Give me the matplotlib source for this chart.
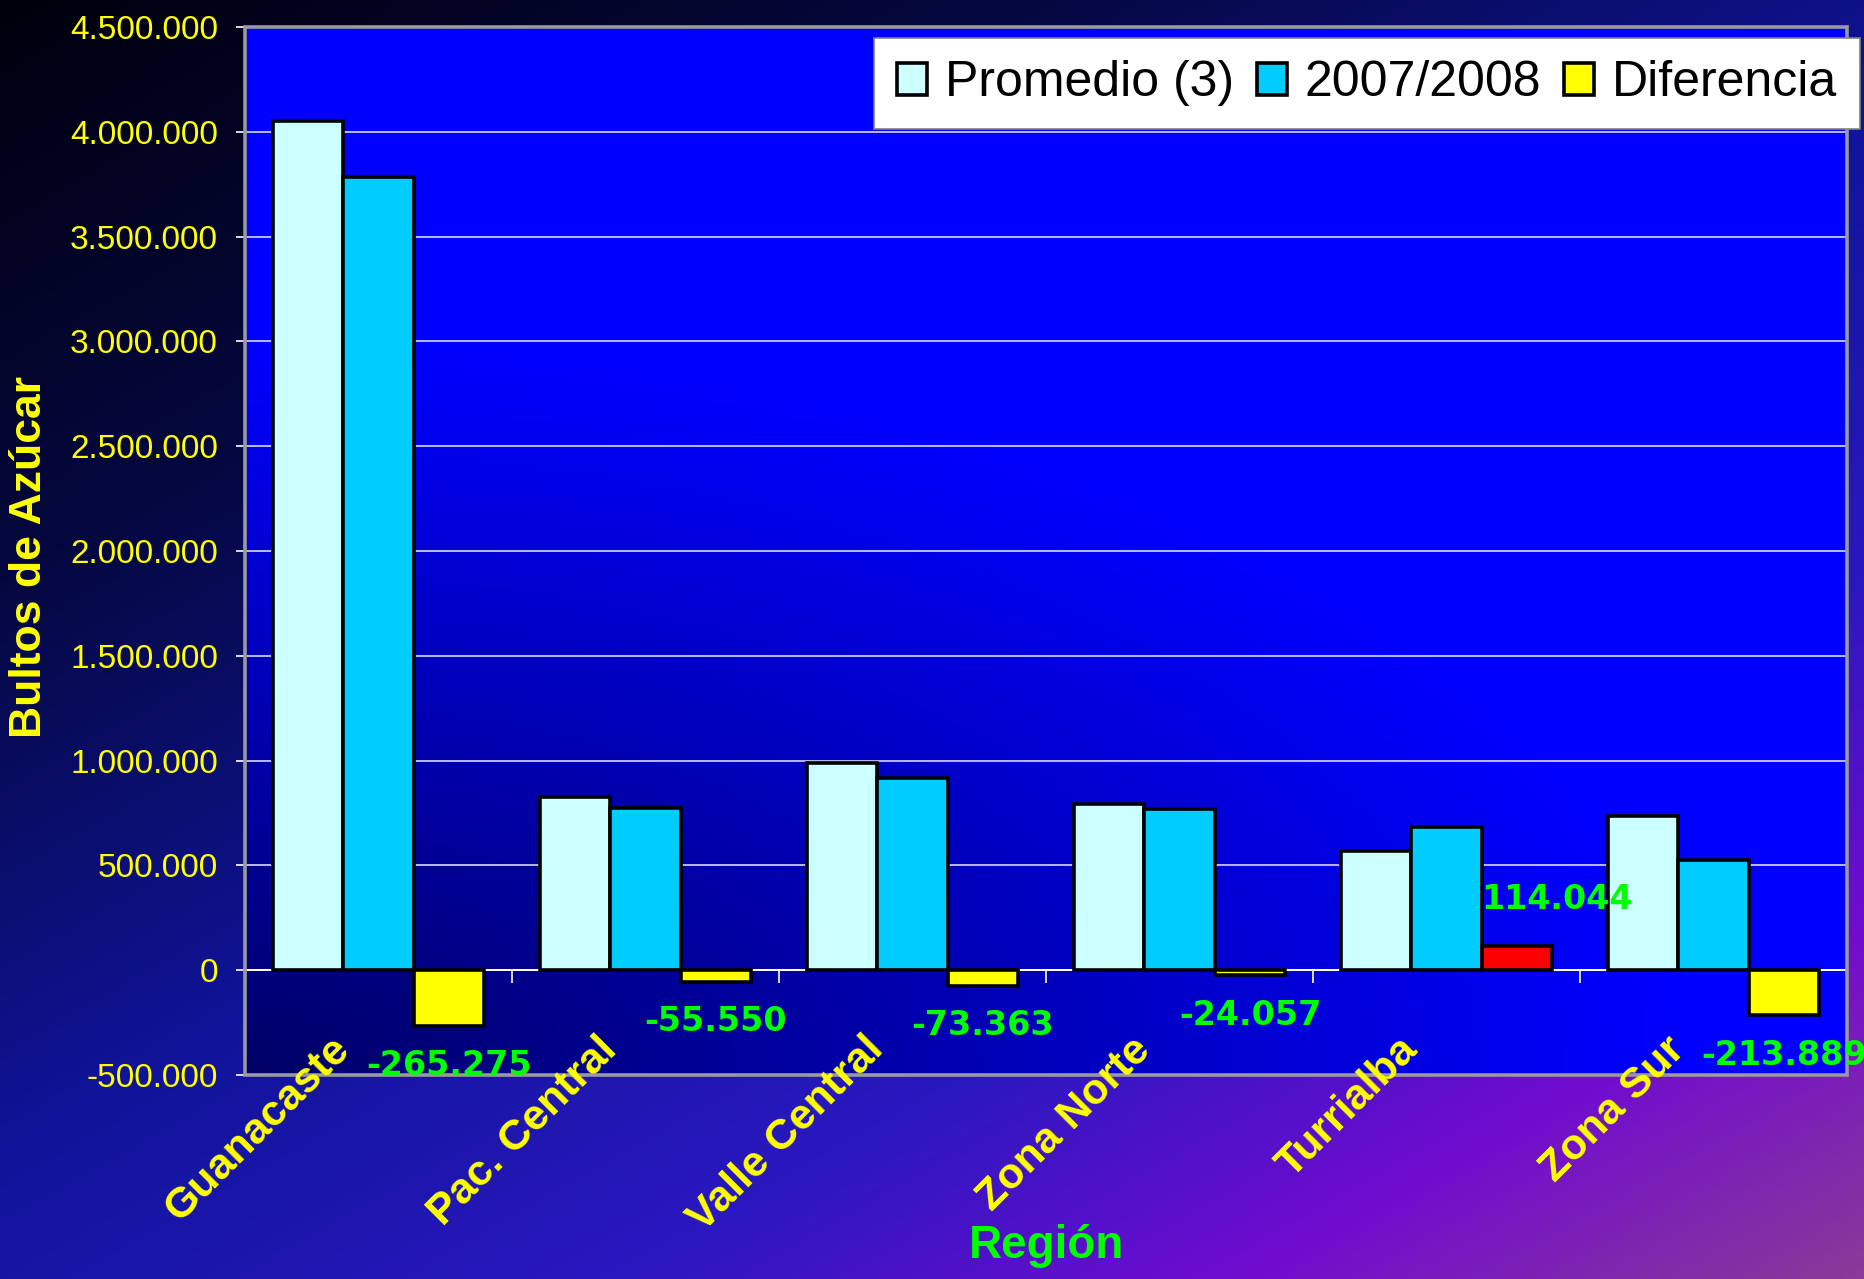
import numpy as np
import matplotlib
matplotlib.use("Agg")
import matplotlib.pyplot as plt
from matplotlib.colors import LinearSegmentedColormap
from matplotlib.ticker import FuncFormatter
from matplotlib.patches import Rectangle
from matplotlib.transforms import blended_transform_factory

# ---------------- data ----------------
regions = ["Guanacaste", "Pac. Central", "Valle Central", "Zona Norte", "Turrialba", "Zona Sur"]
promedio = [4051000, 828000, 988000, 795000, 567000, 738000]
actual = [3786000, 772000, 915000, 771000, 681000, 524000]
diferencia = [-265275, -55550, -73363, -24057, 114044, -213889]
series_labels = ["Promedio (3)", "2007/2008", "Diferencia"]
y_ticks = list(range(-500000, 4500001, 500000))

plt.rcParams["font.family"] = ["Liberation Sans", "DejaVu Sans"]

W, H = 1865, 1279
fig = plt.figure(figsize=(W / 100, H / 100), dpi=100)

# ---------------- figure background gradient ----------------
bgax = fig.add_axes([0, 0, 1, 1], zorder=-10)
gu = np.linspace(0, 1, 400)[None, :]
gv = np.linspace(0, 1, 280)[:, None]
dd = 0.45 * gu + 0.55 * gv
bg_cmap = LinearSegmentedColormap.from_list(
    "bg",
    [(0.0, "#00000c"), (0.25, "#050840"), (0.5, "#10149a"),
     (0.7, "#2a18c0"), (0.85, "#700ccf"), (1.0, "#8a3a98")])
bgax.imshow(dd, cmap=bg_cmap, origin="upper", extent=[0, 1, 0, 1], aspect="auto",
            vmin=0, vmax=1)
bgax.axis("off")

# ---------------- main axes ----------------
left, right, top, bottom = 245, 1847, 27, 1075
ax = fig.add_axes([left / W, 1 - bottom / H, (right - left) / W, (bottom - top) / H])
ax.set_facecolor("none")

# axes gradient background
ga = np.linspace(0, 1, 300)[None, :]
gb = np.linspace(0, 1, 200)[:, None]
r = np.sqrt((ga / 0.9) ** 2 + (gb / 0.7) ** 2)
bright = np.clip(0.40 + 0.6 * r, 0, 1)
rgb = np.zeros((200, 300, 3))
rgb[..., 2] = bright
ax.imshow(rgb, origin="lower", extent=[0, 1, 0, 1], transform=ax.transAxes,
          aspect="auto", zorder=0)

x = np.arange(len(regions))
w = 0.264
b1 = ax.bar(x - w, promedio, w, color="#ccffff", edgecolor="black", linewidth=2.6, zorder=3)
b2 = ax.bar(x, actual, w, color="#00ccff", edgecolor="black", linewidth=2.6, zorder=3)
diff_colors = ["#ff0000" if d > 0 else "#ffff00" for d in diferencia]
b3 = ax.bar(x + w, diferencia, w, color=diff_colors, edgecolor="black", linewidth=2.6, zorder=3)

ax.set_xlim(-0.5, len(regions) - 0.5)
ax.set_ylim(y_ticks[0], y_ticks[-1])
ax.set_yticks(y_ticks)
ax.yaxis.set_major_formatter(FuncFormatter(lambda v, p: f"{int(round(v)):,}".replace(",", ".")))
ax.set_axisbelow(True)
ax.yaxis.grid(True, color="white", linewidth=1.2, alpha=0.85)
ax.xaxis.grid(False)

# spines: zero line white with ticks at category boundaries
for s in ["left", "top", "right"]:
    ax.spines[s].set_visible(False)
ax.spines["bottom"].set_position(("data", 0))
ax.spines["bottom"].set_color("white")
ax.spines["bottom"].set_linewidth(1.4)
ax.set_xticks(np.arange(-0.5, len(regions), 1.0))
ax.tick_params(axis="x", direction="out", length=9, width=1.2, color="white",
               labelbottom=False)
ax.tick_params(axis="y", direction="out", length=6.5, width=1.2, color="white",
               labelcolor="#ffff00", labelsize=24, pad=13)
ax.add_patch(Rectangle((0, 0), 1, 1, transform=ax.transAxes, fill=False,
                       edgecolor="#9a9a9a", linewidth=2.6, clip_on=False, zorder=4))

# category labels
trans = blended_transform_factory(ax.transData, ax.transAxes)
for i, name in enumerate(regions):
    ax.text(i - 0.13, 0.03, name, transform=trans, rotation=45, rotation_mode="anchor",
            ha="right", va="center", fontsize=31, fontweight="bold", color="#ffff00",
            zorder=6, clip_on=False)

# data labels
def fmt(v):
    return f"{v:,}".replace(",", ".")

lab_kw = dict(fontsize=24, fontweight="bold", color="#00ff00", zorder=7,
              annotation_clip=False, family=["DejaVu Sans"])
for i, d in enumerate(diferencia):
    if d < 0:
        ax.annotate(fmt(d), xy=(i + w, d), xytext=(0, -40), textcoords="offset pixels",
                    ha="center", va="center", **lab_kw)
    else:
        ax.annotate(fmt(d), xy=(i + w / 2, d), xytext=(0, 47), textcoords="offset pixels",
                    ha="left", va="center", **lab_kw)

# axis titles
fig.text(30 / W, 1 - 557 / H, "Bultos de Azúcar", rotation=90, ha="center", va="center",
         fontsize=32, fontweight="bold", color="#ffff00")
fig.text(1047 / W, 1 - 1246 / H, "Región", ha="center", va="center",
         fontsize=33, fontweight="bold", color="#00ff00")

# legend
leg = ax.legend([b1, b2, b3], series_labels, loc="upper right",
                bbox_to_anchor=(1860 / W, 1 - 38 / H), bbox_transform=fig.transFigure,
                ncol=3, fontsize=36, frameon=True, fancybox=False, edgecolor="#808080",
                facecolor="white", framealpha=1, handlelength=0.6, handleheight=0.6,
                handletextpad=0.36, columnspacing=0.46, borderpad=0.45, borderaxespad=0)
leg.get_frame().set_linewidth(1.2)
leg.set_zorder(10)

fig.savefig("out.png", dpi=100)
